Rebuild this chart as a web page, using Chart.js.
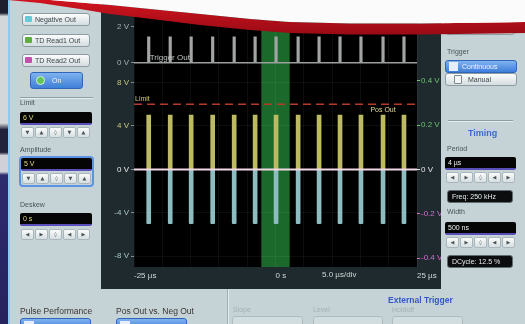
<!DOCTYPE html>
<html>
<head>
<meta charset="utf-8">
<script src="https://cdn.jsdelivr.net/npm/chart.js@4.4.1/dist/chart.umd.min.js"></script>
<style>
    html, body { margin: 0; padding: 0; }
    body { width: 525px; height: 324px; overflow: hidden; position: relative; background: #c5d3d6; font-family: "Liberation Sans", Arial, sans-serif; }
    #photo { position: absolute; left: 0; top: 0; width: 525px; height: 324px; filter: blur(0.35px); }
    .abs { position: absolute; }
    .strip { left: 0; top: 0; width: 8px; height: 324px; background: linear-gradient(to bottom, #1e2030 0, #1e2030 4%, #d4d7da 5%, #d4d7da 38%, #22223a 40%, #22223a 47%, #cfd0d8 48%, #cfd0d8 53%, #2e2a6e 54%, #26235e 100%); }
    .edge { left: 8px; top: 0; width: 2px; height: 324px; background: #86cdf2; }
    .btn { position: absolute; box-sizing: border-box; height: 13px; border: 1px solid #8c9ca2; border-radius: 3px; background: linear-gradient(#fbfcfc, #d5dde0); font-size: 7px; line-height: 11px; color: #39474c; padding-left: 12px; white-space: nowrap; }
    .btn i { position: absolute; left: 2px; top: 2px; width: 7px; height: 6px; border-radius: 1px; }
    .blue { position: absolute; box-sizing: border-box; border: 1px solid #2f66b8; border-radius: 3px; background: linear-gradient(#7fb2f0, #3f7fd8); color: #eef4ff; font-size: 7px; white-space: nowrap; }
    .lbl { position: absolute; font-size: 7px; color: #46545a; white-space: nowrap; }
    .sep { position: absolute; height: 1px; background: #8e9ea3; border-bottom: 1px solid #e6eef0; }
    .inp { position: absolute; box-sizing: border-box; height: 13px; background: #050505; border-radius: 2px; border-bottom: 2px solid #5a4fb8; font-size: 7px; line-height: 11px; color: #e2d97a; padding-left: 3px; }
    .box { position: absolute; box-sizing: border-box; height: 13px; background: #0b0d0e; border: 1px solid #5f6d72; border-radius: 3px; font-size: 7px; line-height: 11px; color: #e4eaec; padding-left: 4px; white-space: nowrap; }
    .spin { position: absolute; display: flex; gap: 1px; }
    .spin span { width: 13px; height: 11px; box-sizing: border-box; border: 1px solid #a9b6ba; border-radius: 2px; background: linear-gradient(#fafbfb, #d7dfe2); font-family: "DejaVu Sans", sans-serif; font-size: 5px; line-height: 9px; text-align: center; color: #4a5458; }
    .focus { position: absolute; box-sizing: border-box; border: 2px solid #5b93e4; border-radius: 4px; }
    .ghost { position: absolute; box-sizing: border-box; height: 12px; border: 1px solid #aebcc0; border-radius: 3px; background: #d2dde0; }
    #panel { left: 101px; top: 0; width: 340px; height: 289px; background: #1e2a2e; }
</style>
</head>
<body>
<div id="photo">
<div class="abs strip"></div>
<div class="abs edge"></div>

<!-- left panel -->
<div class="btn" style="left:22px;top:13px;width:68px"><i style="background:#66c9d6"></i>Negative Out</div>
<div class="btn" style="left:22px;top:34px;width:68px"><i style="background:#5fae3e"></i>TD Read1 Out</div>
<div class="btn" style="left:22px;top:54px;width:68px"><i style="background:#c04fae"></i>TD Read2 Out</div>
<div class="blue" style="left:30px;top:72px;width:53px;height:17px;line-height:15px;padding-left:21px">
    <i style="position:absolute;left:5px;top:3px;width:9px;height:9px;border-radius:50%;background:#62c55a;border:1px solid #d8f2d0;box-sizing:border-box"></i>On</div>
<div class="sep" style="left:20px;top:97px;width:73px"></div>
<div class="lbl" style="left:20px;top:99px">Limit</div>
<div class="inp" style="left:20px;top:112px;width:72px">6 V</div>
<div class="spin" id="spinLimit" style="left:21px;top:127px"></div>
<div class="lbl" style="left:20px;top:146px">Amplitude</div>
<div class="focus" style="left:19px;top:156px;width:75px;height:31px"></div>
<div class="inp" style="left:21px;top:158px;width:71px">5 V</div>
<div class="spin" id="spinAmp" style="left:22px;top:173px"></div>
<div class="lbl" style="left:20px;top:201px">Deskew</div>
<div class="inp" style="left:20px;top:213px;width:72px">0 s</div>
<div class="spin" id="spinDeskew" style="left:21px;top:229px"></div>

<!-- bottom -->
<div class="lbl" style="left:20px;top:306px;font-size:8.5px;color:#3b3434">Pulse Performance</div>
<div class="lbl" style="left:116px;top:306px;font-size:8.5px;color:#3b3434">Pos Out vs. Neg Out</div>
<div class="blue" style="left:20px;top:318px;width:71px;height:12px"><i style="position:absolute;left:3px;top:2px;width:10px;height:8px;background:#e8eef8"></i></div>
<div class="blue" style="left:116px;top:318px;width:71px;height:12px"><i style="position:absolute;left:3px;top:2px;width:10px;height:8px;background:#e8eef8"></i></div>
<div class="abs" style="left:227px;top:289px;width:1px;height:35px;background:#9fb0b4;border-right:1px solid #e2eaec"></div>
<div class="lbl" style="left:388px;top:295px;font-size:8.5px;font-weight:bold;color:#3457c8">External Trigger</div>
<div class="lbl" style="left:233px;top:306px;color:#a3b0b5">Slope</div>
<div class="lbl" style="left:313px;top:306px;color:#a3b0b5">Level</div>
<div class="lbl" style="left:392px;top:306px;color:#a3b0b5">Holdoff</div>
<div class="ghost" style="left:232px;top:316px;width:71px;height:14px"></div>
<div class="ghost" style="left:313px;top:316px;width:70px;height:14px"></div>
<div class="ghost" style="left:392px;top:316px;width:71px;height:14px"></div>

<!-- right panel -->
<div class="btn" style="left:445px;top:20px;width:70px;height:15px"></div>
<div class="lbl" style="left:447px;top:48px">Trigger</div>
<div class="blue" style="left:445px;top:60px;width:72px;height:13px;line-height:11px;padding-left:16px">
    <i style="position:absolute;left:3px;top:1px;width:9px;height:9px;background:#e6eefa"></i>Continuous</div>
<div class="btn" style="left:445px;top:73px;width:72px;padding-left:22px"><i style="background:#f4f6f6;border:1px solid #7a8a90;left:8px;top:1px;width:6px;height:7px"></i>Manual</div>
<div class="sep" style="left:448px;top:120px;width:65px"></div>
<div class="lbl" style="left:468px;top:128px;font-size:9px;font-weight:bold;color:#3b6ad0">Timing</div>
<div class="lbl" style="left:447px;top:145px">Period</div>
<div class="inp" style="left:445px;top:157px;width:71px;color:#eef2f2">4 µs</div>
<div class="spin" id="spinPeriod" style="left:446px;top:172px"></div>
<div class="box" style="left:447px;top:190px;width:66px">Freq: 250 kHz</div>
<div class="lbl" style="left:447px;top:208px">Width</div>
<div class="inp" style="left:445px;top:222px;width:71px;color:#eef2f2">500 ns</div>
<div class="spin" id="spinWidth" style="left:446px;top:237px"></div>
<div class="box" style="left:447px;top:255px;width:66px">DCycle: 12.5 %</div>

<!-- scope -->
<div id="panel" class="abs"><canvas id="scope" width="340" height="289"></canvas></div>

<!-- red swoosh across the top of the photo -->
<svg class="abs" style="left:0;top:0" width="525" height="40" viewBox="0 0 525 40">
    <defs>
        <linearGradient id="red" x1="0" y1="0" x2="0" y2="1">
            <stop offset="0" stop-color="#d0141f"/>
            <stop offset="1" stop-color="#9a0b15"/>
        </linearGradient>
    </defs>
    <path d="M8,0 L50,0 L110,5 L160,10 L200,14 L250,19 L290,22 L350,23.5 L420,23.5 L525,22 L525,33 L420,34.5 L350,34.5 L290,33 L250,30 L200,25 L160,20 L110,14 L80,9 L40,3 Z" fill="url(#red)"/>
    <path d="M50,0 L110,5 L160,10 L200,14 L250,19 L290,22 L350,23.5 L420,23.5 L525,22 L525,0 Z" fill="#fbfbfb"/>
</svg>
</div>

<script>
// --- spinner buttons on the side panels ---
function renderSpin(id, glyphs) {
    document.getElementById(id).innerHTML = glyphs.map(g => `<span>${g}</span>`).join('');
}
renderSpin('spinLimit', ['▼', '▲', '◊', '▼', '▲']);
renderSpin('spinAmp', ['▼', '▲', '◊', '▼', '▲']);
renderSpin('spinDeskew', ['◀', '▶', '◊', '◀', '▶']);
renderSpin('spinPeriod', ['◀', '▶', '◊', '◀', '▶']);
renderSpin('spinWidth', ['◀', '▶', '◊', '◀', '▶']);

// --- data ---
const timeTicks = [-25, -20, -15, -10, -5, 0, 5, 10, 15, 20, 25];   // µs, 5 µs/div
const timeLabels = { '-25': '-25 µs', '0': '0 s', '25': '25 µs' };
const pulseTimes = [-22.4, -18.6, -14.9, -11.1, -7.3, -3.6, 0.1, 4.0, 7.7, 11.4, 15.1, 19.0, 22.7];
const posOut = [5, 5, 5, 5, 5, 5, 5, 5, 5, 5, 5, 5, 5];
const negOut = [-5, -5, -5, -5, -5, -5, -5, -5, -5, -5, -5, -5, -5];
const trigOut = [1.45, 1.45, 1.45, 1.45, 1.45, 1.45, 1.45, 1.45, 1.45, 1.45, 1.45, 1.45, 1.45];
const limitLevel = 6;           // V
const markerBand = [-2.5, 2.5]; // µs
const mainTicks = [-8, -4, 0, 4, 8];
const trigTicks = [0, 2];
const monTicks = [-0.4, -0.2, 0, 0.2, 0.4];

const FONT = { family: '"Liberation Sans", Arial, sans-serif', size: 8 };
const GRID = 'rgba(255,255,255,0.05)';

function fixedTicks(values) {
    return scale => { scale.ticks = values.map(v => ({ value: v })); };
}

function mainColor(v) {
    if (v > 0) return '#c9c77c';
    if (v < 0) return '#a9c6ca';
    return '#eceaea';
}
function monColor(v) {
    if (v > 0) return '#6cc46e';
    if (v < 0) return '#d56fcf';
    return '#e6e6e6';
}

// black screen + marker band, drawn before the grid
const screenBg = {
    id: 'screenBg',
    beforeDraw(chart) {
        const { ctx, chartArea: a, scales } = chart;
        ctx.save();
        ctx.fillStyle = '#000';
        ctx.fillRect(a.left, a.top, a.width, a.height);
        const x0 = scales.x.getPixelForValue(markerBand[0]);
        const x1 = scales.x.getPixelForValue(markerBand[1]);
        ctx.fillStyle = '#1b6a2b';
        ctx.fillRect(x0, a.top, x1 - x0, a.height);
        ctx.restore();
    }
};

// channel names and the time base note
const scopeText = {
    id: 'scopeText',
    afterDatasetsDraw(chart) {
        const { ctx, chartArea: a, scales } = chart;
        ctx.save();
        ctx.font = '8px "Liberation Sans", Arial, sans-serif';
        ctx.textBaseline = 'bottom';
        ctx.fillStyle = '#bfc3c3';
        ctx.fillText('Trigger Out', scales.x.getPixelForValue(pulseTimes[0]) + 1, scales.yT.getPixelForValue(0) - 1);
        ctx.font = '7px "Liberation Sans", Arial, sans-serif';
        ctx.fillStyle = '#cfc66a';
        ctx.fillText('Limit', a.left + 1, scales.y.getPixelForValue(limitLevel) - 2);
        ctx.textAlign = 'center';
        ctx.textBaseline = 'top';
        ctx.fillStyle = '#e4dc96';
        ctx.fillText('Pos Out', scales.x.getPixelForValue(pulseTimes[11]), scales.y.getPixelForValue(limitLevel) + 2);
        ctx.font = '8px "Liberation Sans", Arial, sans-serif';
        ctx.fillStyle = '#d0d8d8';
        ctx.fillText('5.0 µs/div', a.left + a.width * 0.725, a.bottom + 4);
        ctx.restore();
    }
};

const bars = (values, lowToHigh) => pulseTimes.map((t, i) => ({ x: t, y: lowToHigh ? [0, values[i]] : [values[i], 0] }));

new Chart(document.getElementById('scope'), {
    data: {
        datasets: [
            {
                type: 'line', label: '0 V', yAxisID: 'y', order: 0,
                data: [{ x: -25, y: 0 }, { x: 25, y: 0 }],
                borderColor: '#f2d7e4', borderWidth: 2, pointRadius: 0
            },
            {
                type: 'line', label: 'Limit', yAxisID: 'y', order: 1,
                data: [{ x: -25, y: limitLevel }, { x: 25, y: limitLevel }],
                borderColor: '#b63a2a', borderWidth: 1.5, borderDash: [8, 5], pointRadius: 0
            },
            {
                type: 'bar', label: 'Pos Out', yAxisID: 'y', order: 2, grouped: false,
                data: bars(posOut, true),
                backgroundColor: '#bcbb63', barThickness: 4
            },
            {
                type: 'bar', label: 'Negative Out', yAxisID: 'y', order: 3, grouped: false,
                data: bars(negOut, false),
                backgroundColor: '#8dbdc1', barThickness: 4, borderRadius: 1
            },
            {
                type: 'line', label: 'Trigger base', yAxisID: 'yT', order: 4,
                data: [{ x: -25, y: 0 }, { x: 25, y: 0 }],
                borderColor: '#9c9e9e', borderWidth: 1.5, pointRadius: 0
            },
            {
                type: 'bar', label: 'Trigger Out', yAxisID: 'yT', order: 5, grouped: false,
                data: bars(trigOut, true),
                backgroundColor: '#a3a5a5', barThickness: 2.5
            }
        ]
    },
    options: {
        responsive: false,
        animation: false,
        layout: { padding: { top: 12, left: 0, right: 0, bottom: 0 } },
        plugins: { legend: { display: false }, tooltip: { enabled: false } },
        scales: {
            x: {
                type: 'linear', min: -25, max: 25, offset: false,
                afterBuildTicks: fixedTicks(timeTicks),
                afterFit: s => { s.height = 22; },
                border: { display: false },
                grid: { color: GRID, drawTicks: false, offset: false },
                ticks: {
                    font: FONT, color: '#d0d8d8', align: 'start', padding: 4,
                    maxRotation: 0, autoSkip: false,
                    callback: v => timeLabels[v] || ''
                }
            },
            y: {
                type: 'linear', position: 'left', stack: 'left', stackWeight: 196, weight: 0,
                min: -9, max: 9,
                afterBuildTicks: fixedTicks(mainTicks),
                afterFit: s => { s.width = 33; },
                border: { display: false },
                grid: { color: GRID, tickColor: '#7d8c90', tickLength: 3 },
                ticks: { font: FONT, padding: 2, color: c => mainColor(c.tick.value), callback: v => v + ' V' }
            },
            yT: {
                type: 'linear', position: 'left', stack: 'left', stackWeight: 60, weight: 1,
                min: -0.5, max: 2.83,
                afterBuildTicks: fixedTicks(trigTicks),
                afterFit: s => { s.width = 33; },
                border: { display: false },
                grid: { drawOnChartArea: false, tickColor: '#7d8c90', tickLength: 3 },
                ticks: { font: FONT, padding: 2, color: '#a9b1b1', callback: v => v + ' V' }
            },
            yR: {
                type: 'linear', position: 'right', min: -0.44, max: 0.71,
                afterBuildTicks: fixedTicks(monTicks),
                afterFit: s => { s.width = 24; },
                border: { display: false },
                grid: { drawOnChartArea: false, tickColor: c => monColor(c.tick.value), tickLength: 3 },
                ticks: { font: FONT, padding: 1, color: c => monColor(c.tick.value), callback: v => v + ' V' }
            }
        }
    },
    plugins: [screenBg, scopeText]
});
</script>
</body>
</html>
